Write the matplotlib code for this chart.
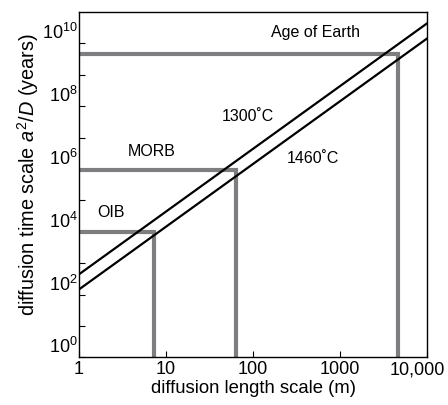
import numpy as np
import matplotlib
matplotlib.use('Agg')
import matplotlib.pyplot as plt
from matplotlib.transforms import ScaledTranslation

plt.rcParams['font.family'] = ['Liberation Sans', 'DejaVu Sans']
plt.rcParams['mathtext.fontset'] = 'custom'
plt.rcParams['mathtext.rm'] = 'Liberation Sans'
plt.rcParams['mathtext.it'] = 'Liberation Sans:italic'

# diffusion time a^2/D (years) at a = 1 m for each temperature
temp_labels = ['1300˚C', '1460˚C']
t_at_1m = [440.0, 145.0]
a_range = [1, 10000]

# boxes: name, time scale (years), length scale (m)
box_names = ['OIB', 'MORB', 'Age of Earth']
box_times = [1.0e4, 9.0e5, 4.5e9]
box_lengths = [7.2, 63, 4600]

x_ticks = [1, 10, 100, 1000, 10000]
x_ticklabels = ['1', '10', '100', '1000', '10,000']
y_ticks = [10.0 ** k for k in range(0, 11)]
y_ticklabels = [r'$10^{%d}$' % k if k % 2 == 0 else '' for k in range(0, 11)]

fig = plt.figure(figsize=(4.48, 4.05), dpi=100)
ax = fig.add_axes([0.1763, 0.1178, 0.7775, 0.8526])
ax.set_xscale('log')
ax.set_yscale('log')
ax.set_xlim(1, 10000)
ax.set_ylim(1, 1e11)

gray = '#7e7e81'
for t, a in zip(box_times, box_lengths):
    ax.plot([1, a, a], [t, t, 1], color=gray, lw=3.0,
            solid_joinstyle='miter', solid_capstyle='butt', zorder=2)

a = np.array(a_range, dtype=float)
for c in t_at_1m:
    ax.plot(a, c * a ** 2, color='black', lw=1.6, zorder=3)

# labels
fs = 11.5
ax.text(525, 2.3e10, box_names[2], fontsize=fs, ha='center', va='center')
ax.text(6.9, 3.5e6, box_names[1], fontsize=fs, ha='center', va='center')
ax.text(2.33, 4.2e4, box_names[0], fontsize=fs, ha='center', va='center')
ax.text(87, 4.7e7, temp_labels[0], fontsize=fs, ha='center', va='center')
ax.text(490, 2.1e6, temp_labels[1], fontsize=fs, ha='center', va='center')

ax.set_xticks(x_ticks)
ax.set_xticklabels(x_ticklabels)
ax.xaxis.set_minor_locator(matplotlib.ticker.NullLocator())
ax.set_yticks(y_ticks)
ax.set_yticklabels(y_ticklabels)
ax.yaxis.set_minor_locator(matplotlib.ticker.NullLocator())
for lab in ax.get_yticklabels():
    lab.set_va('bottom')

ax.tick_params(axis='both', direction='in', length=4, width=0.8, labelsize=13)
ax.tick_params(axis='x', pad=3)
ax.tick_params(axis='y', pad=1)
for s in ax.spines.values():
    s.set_linewidth(1.0)

# last x label sits a little left of its tick, as in the original
last = ax.get_xticklabels()[-1]
last.set_transform(last.get_transform() + ScaledTranslation(-0.10, 0, fig.dpi_scale_trans))

ax.set_xlabel('diffusion length scale (m)', fontsize=13.3, labelpad=1)
ax.set_ylabel(r'diffusion time scale $a^2/D$ (years)', fontsize=14.3)
ax.yaxis.set_label_coords(-0.108, 0.53)

fig.savefig('out.png', dpi=100)
